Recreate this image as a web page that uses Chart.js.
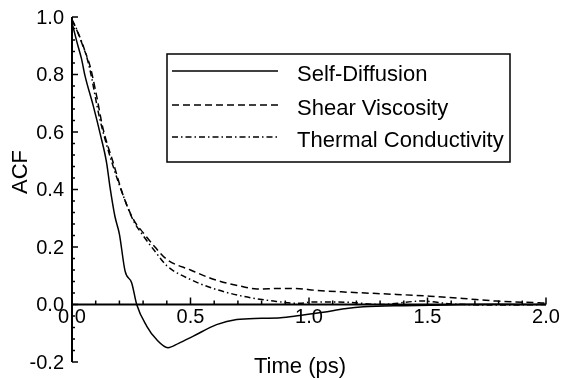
<!DOCTYPE html>
<html>
<head>
<meta charset="utf-8">
<script src="https://cdn.jsdelivr.net/npm/chart.js@4"></script>
<style>
  body { margin: 0; background: #fff; }
  canvas { display: block; }
</style>
</head>
<body>
<canvas id="acfChart" width="563" height="378"></canvas>
<script>
// values (time in ps, ACF)
var self_t = [0, 0.02, 0.04, 0.055, 0.09, 0.12, 0.146, 0.16, 0.181, 0.2, 0.224, 0.252, 0.273, 0.315, 0.357, 0.405, 0.45, 0.512, 0.61, 0.695, 0.8, 0.88, 0.96, 1.06, 1.15, 1.23, 1.4, 1.51, 1.65, 1.79, 2.0];
var self_v = [0.98, 0.915, 0.855, 0.795, 0.69, 0.59, 0.493, 0.41, 0.307, 0.245, 0.116, 0.075, 0.0, -0.075, -0.122, -0.15, -0.135, -0.11, -0.07, -0.052, -0.048, -0.046, -0.038, -0.027, -0.015, -0.008, -0.004, -0.003, 0.0, 0.001, 0.0];

var shear_t = [0, 0.02, 0.05, 0.076, 0.104, 0.13, 0.174, 0.217, 0.259, 0.3, 0.35, 0.4, 0.5, 0.6, 0.71, 0.78, 0.88, 0.96, 1.02, 1.16, 1.37, 1.51, 1.65, 1.79, 1.97, 2.0];
var shear_v = [0.99, 0.955, 0.89, 0.83, 0.725, 0.615, 0.493, 0.377, 0.296, 0.25, 0.2, 0.157, 0.12, 0.087, 0.064, 0.054, 0.056, 0.055, 0.05, 0.043, 0.035, 0.029, 0.021, 0.012, 0.006, 0.005];

var thermal_t = [0, 0.02, 0.069, 0.118, 0.17, 0.22, 0.26, 0.3, 0.35, 0.4, 0.5, 0.61, 0.72, 0.85, 0.96, 1.02, 1.16, 1.3, 1.48, 1.6, 1.8, 2.0];
var thermal_v = [0.99, 0.957, 0.84, 0.643, 0.49, 0.37, 0.29, 0.24, 0.185, 0.135, 0.087, 0.052, 0.029, 0.012, 0.004, 0.009, 0.008, 0.0, 0.012, 0.002, -0.002, 0.0];

var series_names = ['Self-Diffusion', 'Shear Viscosity', 'Thermal Conductivity'];

var x_ticks = [0, 0.5, 1.0, 1.5, 2.0];
var x_tick_labels = ['0.0', '0.5', '1.0', '1.5', '2.0'];
var y_ticks = [-0.2, 0, 0.2, 0.4, 0.6, 0.8, 1.0];
var y_tick_labels = ['-0.2', '0.0', '0.2', '0.4', '0.6', '0.8', '1.0'];

function pts(t, v) {
  return t.map(function (x, i) { return { x: x, y: v[i] }; });
}

var FONT = '"Liberation Sans", Arial, sans-serif';

// axes drawn through the chart's own scales, ticks pointing inward
var axesPlugin = {
  id: 'axes',
  afterDatasetsDraw: function (chart) {
    var c = chart.ctx, xs = chart.scales.x, ys = chart.scales.y;
    var x0 = xs.getPixelForValue(0), y0 = ys.getPixelForValue(0);
    c.save();
    c.strokeStyle = '#000';
    c.fillStyle = '#000';
    c.lineWidth = 2;
    c.setLineDash([]);

    // y axis
    c.beginPath();
    c.moveTo(x0, ys.getPixelForValue(1.0));
    c.lineTo(x0, ys.getPixelForValue(-0.2));
    c.stroke();
    c.lineWidth = 1.5;
    for (var i = 0; i <= 30; i++) {
      var v = -0.2 + i * 0.04;
      var py = ys.getPixelForValue(v);
      var len = (i % 5 === 0) ? 6 : 3;
      c.beginPath();
      c.moveTo(x0, py);
      c.lineTo(x0 + len, py);
      c.stroke();
    }

    // x axis on y = 0
    c.lineWidth = 2;
    c.beginPath();
    c.moveTo(x0, y0);
    c.lineTo(xs.getPixelForValue(2.0), y0);
    c.stroke();
    c.lineWidth = 1.5;
    for (var j = 0; j <= 20; j++) {
      var px = xs.getPixelForValue(j * 0.1);
      var l = (j % 5 === 0) ? 7 : 4;
      c.beginPath();
      c.moveTo(px, y0);
      c.lineTo(px, y0 - l);
      c.stroke();
    }

    // tick labels
    c.font = '20px ' + FONT;
    c.textAlign = 'right';
    c.textBaseline = 'middle';
    y_ticks.forEach(function (v, k) {
      c.fillText(y_tick_labels[k], x0 - 8, ys.getPixelForValue(v) + 1);
    });
    c.textAlign = 'center';
    x_ticks.forEach(function (v, k) {
      c.fillText(x_tick_labels[k], xs.getPixelForValue(v), y0 + 13);
    });

    // axis titles
    c.font = '22px ' + FONT;
    c.textBaseline = 'alphabetic';
    c.fillText('Time (ps)', 300, 373);
    c.save();
    c.translate(27, 172);
    c.rotate(-Math.PI / 2);
    c.textBaseline = 'alphabetic';
    c.fillText('ACF', 0, 0);
    c.restore();

    // legend box
    c.lineWidth = 1.5;
    c.strokeRect(167, 54, 343, 108);
    var rows = [71, 105, 137];
    c.font = '22px ' + FONT;
    c.textAlign = 'left';
    c.textBaseline = 'middle';
    chart.data.datasets.forEach(function (ds, k) {
      c.lineWidth = ds.borderWidth;
      c.setLineDash(ds.borderDash || []);
      c.beginPath();
      c.moveTo(172, rows[k]);
      c.lineTo(278, rows[k]);
      c.stroke();
      c.setLineDash([]);
      c.fillText(ds.label, 297, rows[k] + 4);
    });
    c.restore();
  }
};

var ctx = document.getElementById('acfChart').getContext('2d');
var acfChart = new Chart(ctx, {
  type: 'line',
  data: {
    datasets: [{
      label: series_names[0],
      data: pts(self_t, self_v),
      borderColor: '#000',
      borderWidth: 1.5,
      borderDash: [],
      pointRadius: 0,
      cubicInterpolationMode: 'monotone',
      fill: false
    }, {
      label: series_names[1],
      data: pts(shear_t, shear_v),
      borderColor: '#000',
      borderWidth: 1.5,
      borderDash: [7, 4],
      pointRadius: 0,
      cubicInterpolationMode: 'monotone',
      fill: false
    }, {
      label: series_names[2],
      data: pts(thermal_t, thermal_v),
      borderColor: '#000',
      borderWidth: 1.5,
      borderDash: [6, 3, 1.5, 3],
      pointRadius: 0,
      cubicInterpolationMode: 'monotone',
      fill: false
    }]
  },
  options: {
    responsive: false,
    animation: false,
    layout: { padding: { left: 72, right: 17, top: 17, bottom: 16 } },
    plugins: { legend: { display: false }, tooltip: { enabled: false } },
    scales: {
      x: { type: 'linear', min: 0, max: 2.0, display: false },
      y: { type: 'linear', min: -0.2, max: 1.0, display: false }
    }
  },
  plugins: [axesPlugin]
});
</script>
</body>
</html>
